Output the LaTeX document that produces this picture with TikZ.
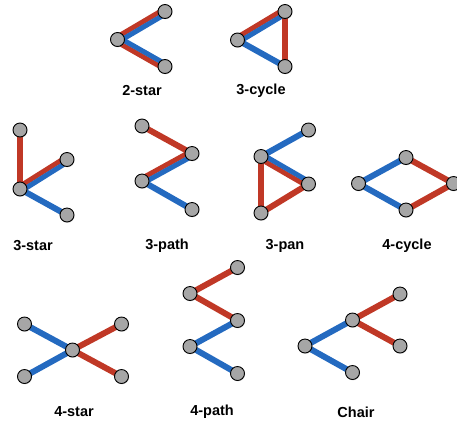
\documentclass[tikz,border=0pt]{standalone}
\usepackage{fontspec}
\setmainfont{Liberation Sans}
\usetikzlibrary{calc,backgrounds,shadows}
\definecolor{edgered}{RGB}{192,56,38}
\definecolor{edgeblue}{RGB}{36,106,192}
\definecolor{nodegray}{RGB}{166,166,166}
\tikzset{
  vtx/.style={circle,draw=black,line width=0.9pt,fill=nodegray,minimum size=14pt,inner sep=0pt,
    drop shadow={opacity=0.25,shadow xshift=0.6pt,shadow yshift=-0.9pt}},
  rd/.style={draw=edgered,line width=6pt},
  bl/.style={draw=edgeblue,line width=6pt},
  drd/.style={draw=edgered,line width=5pt},
  dbl/.style={draw=edgeblue,line width=5pt},
  lab/.style={font=\bfseries\fontsize{14.5}{17}\selectfont,inner sep=0pt}
}
\newcommand\DEdge[2]{%
  \draw[drd] ($(#1)!2.4pt!90:(#2)$) -- ($(#2)!2.4pt!-90:(#1)$);
  \draw[dbl] ($(#1)!2.4pt!-90:(#2)$) -- ($(#2)!2.4pt!90:(#1)$);}
\newcommand\REdge[2]{\draw[rd] (#1.center) -- (#2.center);}
\newcommand\BEdge[2]{\draw[bl] (#1.center) -- (#2.center);}
\begin{document}
\begin{tikzpicture}[x=1pt,y=-1pt]
\useasboundingbox (0,0) rectangle (457,424);
% 2-star
\node[vtx] (sa) at (117.5,39.5) {};
\node[vtx] (sb) at (165,11.5) {};
\node[vtx] (sc) at (165,66.5) {};
\node[lab] (l1) at (142,91) {2-star};
% 3-cycle
\node[vtx] (ca) at (237.5,40) {};
\node[vtx] (cb) at (285,11.5) {};
\node[vtx] (cc) at (285,66.5) {};
\node[lab] (l2) at (261,91) {3-cycle};
% 3-star
\node[vtx] (ta) at (20,130) {};
\node[vtx] (tb) at (20,189) {};
\node[vtx] (tc) at (67,159.5) {};
\node[vtx] (td) at (67,215) {};
\node[lab] (l3) at (33,245.5) {3-star};
% 3-path
\node[vtx] (pa) at (142,126) {};
\node[vtx] (pb) at (192,153.5) {};
\node[vtx] (pc) at (142,181) {};
\node[vtx] (pd) at (192,209.5) {};
\node[lab] (l4) at (167,245.5) {3-path};
% 3-pan
\node[vtx] (na) at (308.5,130) {};
\node[vtx] (nb) at (261,156.5) {};
\node[vtx] (nc) at (308.5,184) {};
\node[vtx] (nd) at (261,213) {};
\node[lab] (l5) at (285,245.5) {3-pan};
% 4-cycle
\node[vtx] (ya) at (358.5,183.5) {};
\node[vtx] (yb) at (406,157.5) {};
\node[vtx] (yc) at (406,210) {};
\node[vtx] (yd) at (453.5,183.5) {};
\node[lab] (l6) at (407,245.5) {4-cycle};
% 4-star
\node[vtx] (ka) at (24.5,324) {};
\node[vtx] (kb) at (24.5,376.5) {};
\node[vtx] (kc) at (72.5,350) {};
\node[vtx] (kd) at (121.5,324) {};
\node[vtx] (ke) at (121.5,376.5) {};
\node[lab] (l7) at (74,412) {4-star};
% 4-path
\node[vtx] (fa) at (237.5,267.5) {};
\node[vtx] (fb) at (190,293.5) {};
\node[vtx] (fc) at (237.5,320.5) {};
\node[vtx] (fd) at (190,346.5) {};
\node[vtx] (fe) at (237.5,373.5) {};
\node[lab] (l8) at (212,412) {4-path};
% Chair
\node[vtx] (ha) at (305,346) {};
\node[vtx] (hb) at (352.5,320) {};
\node[vtx] (hc) at (352.5,372.5) {};
\node[vtx] (hd) at (400,294) {};
\node[vtx] (he) at (400,346) {};
\node[lab] (l9) at (356,412) {Chair};
\begin{pgfonlayer}{background}
  % 2-star
  \DEdge{sa}{sb}
  \DEdge{sc}{sa}
  % 3-cycle
  \DEdge{ca}{cb}
  \REdge{cb}{cc}
  \BEdge{ca}{cc}
  % 3-star
  \REdge{ta}{tb}
  \DEdge{tb}{tc}
  \BEdge{tb}{td}
  % 3-path
  \REdge{pa}{pb}
  \DEdge{pc}{pb}
  \BEdge{pc}{pd}
  % 3-pan
  \BEdge{nb}{na}
  \DEdge{nc}{nb}
  \REdge{nb}{nd}
  \REdge{nd}{nc}
  % 4-cycle
  \BEdge{ya}{yb}
  \BEdge{ya}{yc}
  \REdge{yb}{yd}
  \REdge{yc}{yd}
  % 4-star
  \BEdge{ka}{kc}
  \BEdge{kb}{kc}
  \REdge{kc}{kd}
  \REdge{kc}{ke}
  % 4-path
  \REdge{fb}{fa}
  \REdge{fb}{fc}
  \BEdge{fd}{fc}
  \BEdge{fd}{fe}
  % Chair
  \BEdge{ha}{hb}
  \BEdge{ha}{hc}
  \REdge{hb}{hd}
  \REdge{hb}{he}
\end{pgfonlayer}
\end{tikzpicture}
\end{document}
